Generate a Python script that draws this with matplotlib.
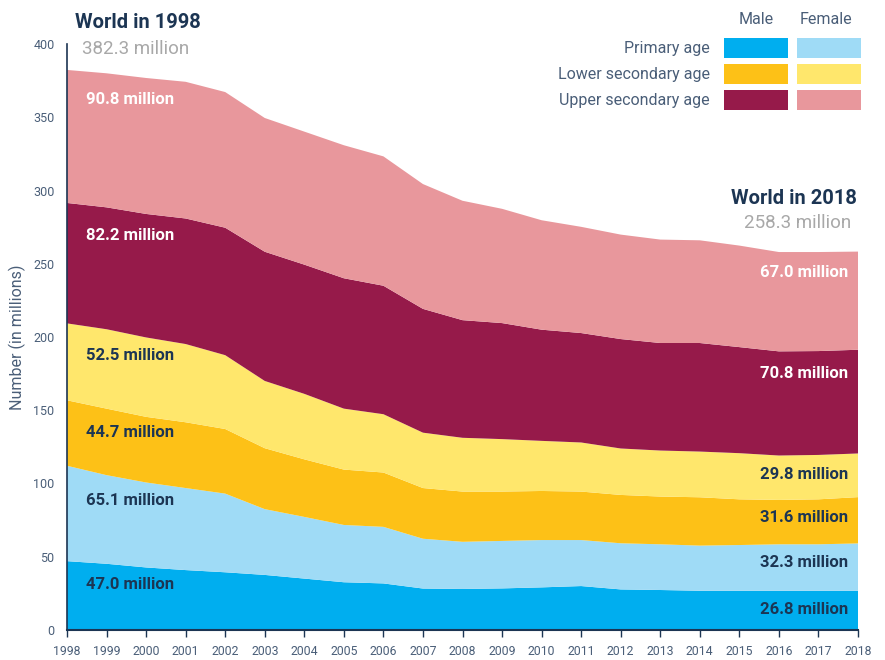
import matplotlib.pyplot as plt
from matplotlib.patches import Rectangle
import numpy as np

plt.rcParams['font.family'] = ['Roboto', 'DejaVu Sans']

# Out-of-school children, millions
years = list(range(1998, 2019))
primary_male = [47.0, 45.2, 42.7, 40.9, 39.4, 37.6, 35.1, 32.6, 31.8, 28.3, 28.0,
                28.4, 29.1, 30.0, 27.7, 27.3, 26.8, 26.8, 26.8, 26.8, 26.8]
primary_female = [65.1, 60.5, 58.0, 56.0, 53.7, 44.9, 42.1, 39.1, 38.6, 34.0, 32.2,
                  32.4, 32.3, 31.4, 31.5, 31.2, 30.8, 31.2, 31.7, 31.7, 32.3]
lower_male = [44.7, 45.4, 44.8, 44.9, 44.1, 41.6, 39.3, 37.8, 37.1, 34.6, 34.3,
              33.7, 33.5, 33.1, 33.0, 32.6, 33.0, 31.2, 30.3, 30.7, 31.6]
lower_female = [52.5, 54.2, 54.2, 53.4, 50.4, 45.9, 44.7, 41.6, 39.8, 37.8, 36.7,
                35.8, 34.2, 33.5, 31.7, 31.4, 31.2, 31.5, 30.3, 30.3, 29.8]
upper_male = [82.2, 83.2, 84.3, 85.7, 87.0, 88.2, 88.2, 89.0, 87.7, 84.5, 80.3,
              79.2, 75.9, 74.7, 74.7, 73.4, 74.1, 72.4, 71.1, 70.9, 70.8]
upper_female = [90.8, 91.5, 92.8, 93.3, 92.6, 91.3, 90.8, 90.8, 88.3, 85.2, 81.5,
                78.0, 74.7, 72.5, 71.3, 70.6, 70.1, 69.3, 67.8, 67.6, 67.0]

age_groups = ['Primary age', 'Lower secondary age', 'Upper secondary age']
male_colors = ['#00aeef', '#fdc117', '#961a4a']
female_colors = ['#9fdbf6', '#ffe76c', '#e8979c']

navy = '#1c3553'
axis_col = '#4a5e78'
grey = '#a8a8a8'

series = [primary_male, primary_female, lower_male, lower_female, upper_male, upper_female]
colors = [male_colors[0], female_colors[0], male_colors[1], female_colors[1],
          male_colors[2], female_colors[2]]

fig = plt.figure(figsize=(8.85, 6.6), dpi=100)
ax = fig.add_axes([67/885, 30/660, (858-67)/885, (630-44)/660])
ax.stackplot(years, *series, colors=colors, linewidth=0)

ax.set_xlim(1998, 2018)
ax.set_ylim(0, 400)
ax.set_xticks(years)
ax.set_yticks(range(0, 401, 50))
ax.tick_params(axis='x', length=5, width=1, color=navy, labelsize=8.8, labelcolor=axis_col, pad=6)
ax.tick_params(axis='y', length=0, labelsize=9, labelcolor=axis_col, pad=9)
for s in ['top', 'right']:
    ax.spines[s].set_visible(False)
ax.spines['left'].set_color(navy)
ax.spines['bottom'].set_color(navy)
ax.spines['left'].set_linewidth(1.2)
ax.spines['bottom'].set_linewidth(1.5)
ax.set_ylabel('Number (in millions)', fontsize=11.5, color=axis_col, labelpad=5)

# totals
fig.text(75/885, 1-22/660, 'World in 1998', fontsize=14.5, fontweight='bold', color=navy,
         ha='left', va='center')
fig.text(82/885, 1-49/660, '382.3 million', fontsize=13.5, color=grey, ha='left', va='center')
fig.text(857/885, 1-198/660, 'World in 2018', fontsize=14.5, fontweight='bold', color=navy,
         ha='right', va='center')
fig.text(851/885, 1-223/660, '258.3 million', fontsize=13.5, color=grey, ha='right', va='center')

# layer labels
start_vals = [s[0] for s in series]
end_vals = [s[-1] for s in series]
label_y_start = [31.2, 88.5, 134.7, 187.6, 269.5, 362.1]
label_y_end = [14.0, 46.1, 76.9, 106.3, 175.4, 243.7]
for i in range(6):
    c = 'white' if i >= 4 else navy
    ax.text(1998.48, label_y_start[i], f'{start_vals[i]:.1f} million', fontsize=12,
            fontweight='bold', color=c, ha='left', va='center')
    ax.text(2017.75, label_y_end[i], f'{end_vals[i]:.1f} million', fontsize=12,
            fontweight='bold', color=c, ha='right', va='center')

# legend
fig.text(756/885, 1-20/660, 'Male', fontsize=11.5, color=axis_col, ha='center', va='center')
fig.text(826/885, 1-20/660, 'Female', fontsize=11.5, color=axis_col, ha='center', va='center')
row_y = [48, 74, 100]
for i in range(3):
    fig.text(710/885, 1-row_y[i]/660, age_groups[i], fontsize=11.5, color=axis_col,
             ha='right', va='center')
    fig.add_artist(Rectangle((724/885, 1-(row_y[i]+9.5)/660), 64/885, 19/660,
                             transform=fig.transFigure, color=male_colors[i], lw=0))
    fig.add_artist(Rectangle((797/885, 1-(row_y[i]+9.5)/660), 64/885, 19/660,
                             transform=fig.transFigure, color=female_colors[i], lw=0))

fig.savefig('out.png', dpi=100)
